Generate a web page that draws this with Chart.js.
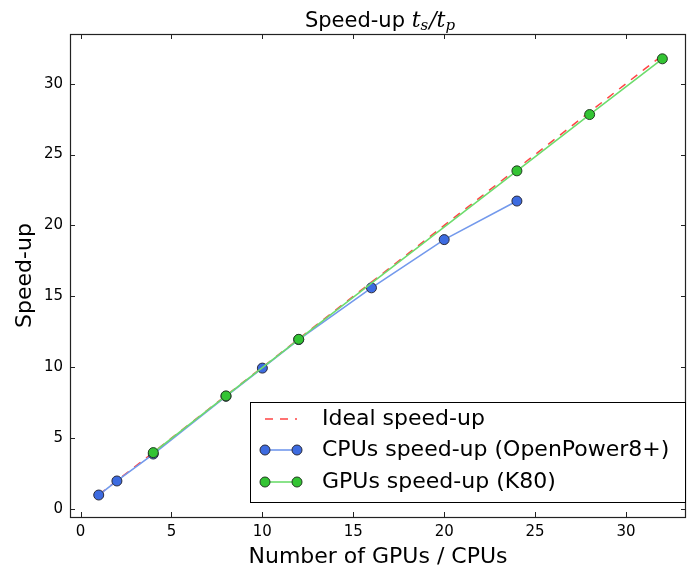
<!DOCTYPE html>
<html>
<head>
<meta charset="utf-8">
<script src="https://cdn.jsdelivr.net/npm/chart.js@4.4.0/dist/chart.umd.min.js"></script>
<style>
html,body{margin:0;padding:0;background:#fff;}
#wrap{width:687px;height:566px;position:relative;}
</style>
</head>
<body>
<div id="wrap"><canvas id="c" width="687" height="566"></canvas></div>
<script>
// ---- data ----
const idealX = [1,2,3,4,5,6,7,8,9,10,11,12,13,14,15,16,17,18,19,20,21,22,23,24,25,26,27,28,29,30,31,32];
const idealY = [1,2,3,4,5,6,7,8,9,10,11,12,13,14,15,16,17,18,19,20,21,22,23,24,25,26,27,28,29,30,31,32];
const cpuX = [1,2,4,8,10,12,16,20,24];
const cpuY = [0.99,1.98,3.88,7.95,9.94,11.95,15.6,19.0,21.72];
const gpuX = [4,8,12,24,28,32];
const gpuY = [3.98,7.98,11.97,23.85,27.82,31.75];
const xTicks = [0,5,10,15,20,25,30];
const yTicks = [0,5,10,15,20,25,30];
const labels = {
  title: "Speed-up ",
  xTitle: "Number of GPUs / CPUs",
  yTitle: "Speed-up",
  ideal: "Ideal speed-up",
  cpu: "CPUs speed-up (OpenPower8+)",
  gpu: "GPUs speed-up (K80)"
};

const pts = (xs, ys) => xs.map((x, i) => ({x: x, y: ys[i]}));
const FONT = "'DejaVu Sans', sans-serif";

const decor = {
  id: 'decor',
  afterDatasetsDraw(chart) {
    const ctx = chart.ctx;
    const a = chart.chartArea;
    const xs = chart.scales.x, ys = chart.scales.y;
    ctx.save();
    // frame
    ctx.strokeStyle = '#222';
    ctx.lineWidth = 1.2;
    ctx.strokeRect(a.left + 0.5, a.top + 0.5, a.right - a.left - 1, a.bottom - a.top);
    // inward ticks
    ctx.lineWidth = 1;
    ctx.strokeStyle = '#222';
    const tl = 5;
    ctx.beginPath();
    xTicks.forEach(v => {
      const px = Math.round(xs.getPixelForValue(v)) + 0.5;
      ctx.moveTo(px, a.bottom); ctx.lineTo(px, a.bottom - tl);
      ctx.moveTo(px, a.top); ctx.lineTo(px, a.top + tl);
    });
    yTicks.forEach(v => {
      const py = Math.round(ys.getPixelForValue(v)) + 0.5;
      ctx.moveTo(a.left, py); ctx.lineTo(a.left + tl, py);
      ctx.moveTo(a.right, py); ctx.lineTo(a.right - tl, py);
    });
    ctx.stroke();

    // title
    ctx.fillStyle = '#000';
    ctx.textBaseline = 'alphabetic';
    const tFont = "21px " + FONT;
    const mFont = "italic 22px 'DejaVu Serif', serif";
    const sFont = "italic 15px 'DejaVu Serif', serif";
    ctx.font = tFont; const w1 = ctx.measureText(labels.title).width;
    ctx.font = mFont; const wt = ctx.measureText('t').width; const wsl = ctx.measureText('/').width;
    ctx.font = sFont; const wsS = ctx.measureText('s').width; const wsP = ctx.measureText('p').width;
    const total = w1 + wt + wsS + 1 + wsl + wt + wsP;
    let x0 = (a.left + a.right) / 2 - total / 2 + 2;
    const by = 27;
    ctx.textAlign = 'left';
    ctx.font = tFont; ctx.fillText(labels.title, x0, by); x0 += w1;
    ctx.font = mFont; ctx.fillText('t', x0, by); x0 += wt;
    ctx.font = sFont; ctx.fillText('s', x0, by + 3); x0 += wsS + 1;
    ctx.font = mFont; ctx.fillText('/', x0, by); x0 += wsl;
    ctx.fillText('t', x0, by); x0 += wt;
    ctx.font = sFont; ctx.fillText('p', x0, by + 3);

    // axis titles
    ctx.font = "22px " + FONT;
    ctx.textAlign = 'center';
    ctx.textBaseline = 'alphabetic';
    ctx.fillText(labels.xTitle, (a.left + a.right) / 2, 563);
    ctx.save();
    ctx.translate(31, (a.top + a.bottom) / 2);
    ctx.rotate(-Math.PI / 2);
    ctx.fillText(labels.yTitle, 0, 0);
    ctx.restore();

    // legend
    const bx = 250, byy = 402, bw = 436, bh = 101;
    ctx.fillStyle = '#fff';
    ctx.fillRect(bx, byy, bw, bh);
    ctx.strokeStyle = '#000';
    ctx.lineWidth = 1;
    ctx.strokeRect(bx + 0.5, byy + 0.5, bw - 1, bh - 1);
    const rows = [419, 450, 482];
    const ds = chart.data.datasets;
    const names = [labels.ideal, labels.cpu, labels.gpu];
    ds.forEach((d, i) => {
      const y = rows[i];
      ctx.save();
      ctx.strokeStyle = d.borderColor;
      ctx.lineWidth = d.borderWidth;
      ctx.setLineDash(d.borderDash || []);
      ctx.beginPath();
      ctx.moveTo(265, y); ctx.lineTo(297, y);
      ctx.stroke();
      ctx.setLineDash([]);
      if (d.pointRadius > 0) {
        [265, 297].forEach(px => {
          ctx.beginPath();
          ctx.arc(px, y, d.pointRadius, 0, Math.PI * 2);
          ctx.fillStyle = d.pointBackgroundColor;
          ctx.fill();
          ctx.lineWidth = d.pointBorderWidth;
          ctx.strokeStyle = d.pointBorderColor;
          ctx.stroke();
        });
      }
      ctx.restore();
      ctx.fillStyle = '#000';
      ctx.font = "22px " + FONT;
      ctx.textAlign = 'left';
      ctx.textBaseline = 'middle';
      ctx.fillText(names[i], 322, y);
    });
    ctx.restore();
  }
};

new Chart(document.getElementById('c'), {
  type: 'scatter',
  data: {
    datasets: [
      {
        label: labels.ideal,
        data: pts(idealX, idealY),
        showLine: true,
        borderColor: 'rgba(255,20,20,0.8)',
        borderWidth: 1.5,
        borderDash: [8, 7],
        pointRadius: 0,
        order: 3
      },
      {
        label: labels.cpu,
        data: pts(cpuX, cpuY),
        showLine: true,
        borderColor: '#7399ec',
        borderWidth: 1.6,
        pointRadius: 5,
        pointBackgroundColor: '#3d6be0',
        pointBorderColor: '#2a2a3a',
        pointBorderWidth: 1,
        order: 2
      },
      {
        label: labels.gpu,
        data: pts(gpuX, gpuY),
        showLine: true,
        borderColor: '#6ddc6d',
        borderWidth: 1.6,
        pointRadius: 5,
        pointBackgroundColor: '#33c433',
        pointBorderColor: '#223a22',
        pointBorderWidth: 1,
        order: 1
      }
    ]
  },
  options: {
    responsive: false,
    animation: false,
    devicePixelRatio: 1,
    layout: { autoPadding: false, padding: { left: 0, right: 1, top: 34, bottom: 0 } },
    plugins: { legend: { display: false }, title: { display: false }, tooltip: { enabled: false } },
    scales: {
      x: {
        type: 'linear',
        min: -0.58,
        max: 33.3,
        grid: { display: false, drawTicks: false, tickLength: 0 },
        border: { display: false },
        afterBuildTicks: s => { s.ticks = xTicks.map(v => ({ value: v })); },
        afterFit: s => { s.height = 49; s.paddingLeft = 0; s.paddingRight = 0; },
        ticks: { color: '#000', font: { family: FONT, size: 15 }, padding: 6, maxRotation: 0, autoSkip: false }
      },
      y: {
        type: 'linear',
        min: -0.56,
        max: 33.5,
        grid: { display: false, drawTicks: false, tickLength: 0 },
        border: { display: false },
        afterBuildTicks: s => { s.ticks = yTicks.map(v => ({ value: v })); },
        afterFit: s => { s.width = 70; s.paddingTop = 0; s.paddingBottom = 0; },
        ticks: { color: '#000', font: { family: FONT, size: 15 }, padding: 7, autoSkip: false }
      }
    }
  },
  plugins: [decor]
});
</script>
</body>
</html>
